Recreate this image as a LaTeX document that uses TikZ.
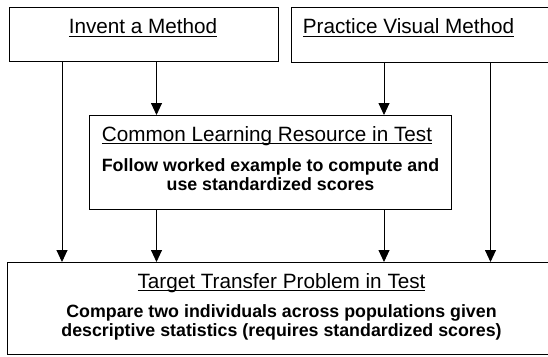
\documentclass[tikz,border=0pt]{standalone}
\usepackage{fontspec}
\setmainfont{Liberation Sans}
\usetikzlibrary{arrows.meta,positioning}
\newcommand\ulhead[1]{\setbox0\hbox{#1}\rlap{\rule[-3.2pt]{\wd0}{1.2pt}}\box0}
\tikzset{box/.style={draw, line width=1.1pt, rectangle, anchor=north west, inner sep=0pt},
	head/.style={anchor=base, inner sep=0pt, font=\fontsize{20.7}{24}\selectfont},
	body/.style={anchor=base, inner sep=0pt, align=center, font=\fontsize{17.8}{19}\selectfont\bfseries},
	arr/.style={-{Triangle[length=12pt,width=11pt]}, line width=0.9pt}}

\begin{document}
\begin{tikzpicture}[x=1pt,y=-1pt]
		\useasboundingbox (0,0) rectangle (548,356);
		\clip (0,0) rectangle (548,356);
		\node[box, minimum width=269pt, minimum height=54pt] (inv) at (9,7) {};
		\node[box, minimum width=270pt, minimum height=55pt] (prac) at (291,7) {};
		\node[box, minimum width=362pt, minimum height=94pt] (common) at (89,115) {};
		\node[box, minimum width=549pt, minimum height=92pt] (target) at (7,262) {};
		
		\node[head] (invt) at (143,33.5) {\ulhead{Invent a Method}};
		\node[head] (pract) at (408.5,33.5) {\ulhead{Practice Visual Method}};
		\node[head] (commont) at (267,141) {\ulhead{Common Learning Resource in Test}};
		\node[body] (commonb) at (270.5,190) {Follow worked example to compute and\\use standardized scores};
		\node[head] (targett) at (281.5,288) {\ulhead{Target Transfer Problem in Test}};
		\node[body] (targetb) at (281.5,336) {Compare two individuals across populations given\\descriptive statistics (requires standardized scores)};
		
		\coordinate (la) at (62,0);
		\coordinate (lb) at (156.5,0);
		\coordinate (lc) at (384,0);
		\coordinate (ld) at (490.5,0);
		\draw[arr] (la |- inv.south) -- (la |- target.north);
		\draw[arr] (lb |- inv.south) -- (lb |- common.north);
		\draw[arr] (lc |- prac.south) -- (lc |- common.north);
		\draw[arr] (ld |- prac.south) -- (ld |- target.north);
		\draw[arr] (lb |- common.south) -- (lb |- target.north);
		\draw[arr] (lc |- common.south) -- (lc |- target.north);
		\end{tikzpicture}
\end{document}
